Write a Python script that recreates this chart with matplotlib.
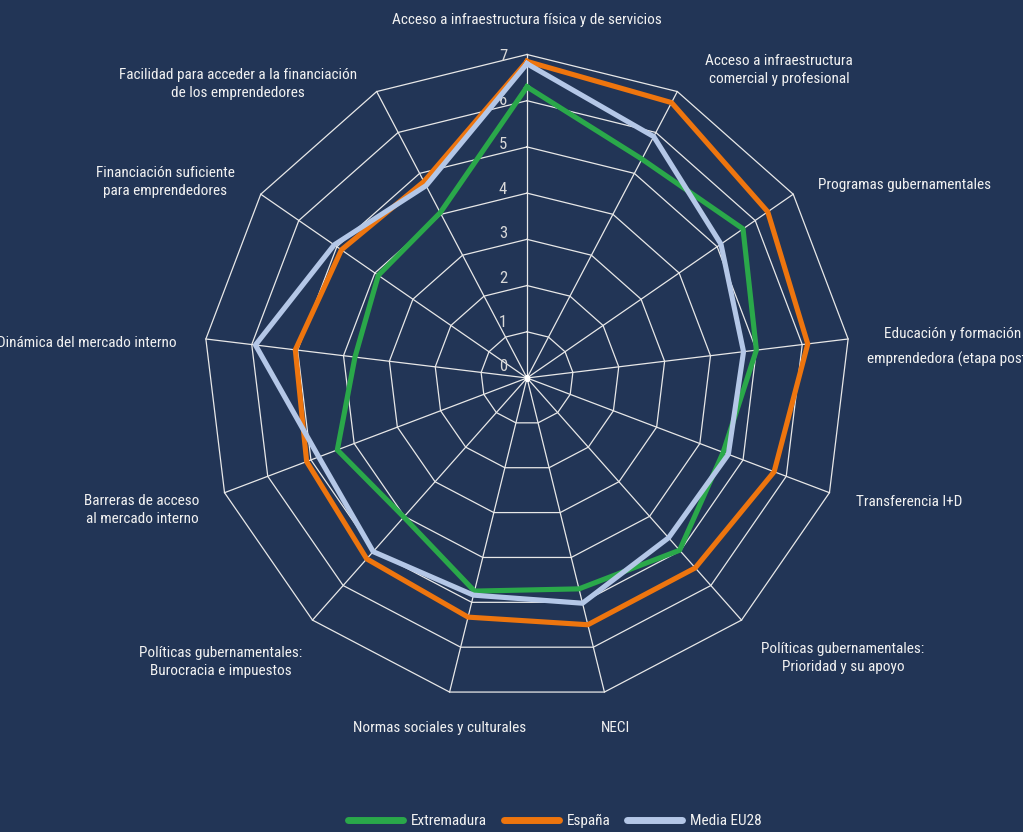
import numpy as np
import matplotlib.pyplot as plt
from matplotlib.lines import Line2D
from matplotlib.transforms import offset_copy

# Condiciones del entorno emprendedor (escala 0-7), en sentido horario desde arriba
categorias = [
    "Acceso a infraestructura física y de servicios",
    "Acceso a infraestructura\ncomercial y profesional",
    "Programas gubernamentales",
    "Educación y formación\nemprendedora (etapa post escolar)",
    "Transferencia I+D",
    "Políticas gubernamentales:\nPrioridad y su apoyo",
    "NECI",
    "Normas sociales y culturales",
    "Políticas gubernamentales:\nBurocracia e impuestos",
    "Barreras de acceso\nal mercado interno",
    "Dinámica del mercado interno",
    "Financiación suficiente\npara emprendedores",
    "Facilidad para acceder a la financiación\nde los emprendedores",
]
extremadura = [6.30, 5.35, 5.68, 5.00, 4.54, 4.98, 4.70, 4.75, 4.02, 4.39, 3.75, 3.91, 4.04]
espana = [6.85, 6.73, 6.33, 6.12, 5.72, 5.49, 5.50, 5.33, 5.23, 5.10, 5.05, 4.88, 4.80]
media_eu28 = [6.80, 5.90, 5.10, 4.72, 4.66, 4.62, 5.02, 4.84, 5.02, 4.82, 5.92, 5.07, 4.70]
escala = [0, 1, 2, 3, 4, 5, 6, 7]

fondo = '#223556'
color_red = '#e8e8e8'
color_texto = '#f2f2f2'
plt.rcParams['font.family'] = ['Roboto Condensed', 'Open Sans Condensed', 'Noto Sans Condensed',
                               'Liberation Sans Narrow', 'Noto Sans', 'DejaVu Sans']
plt.rcParams['font.stretch'] = 'condensed'

W, H = 1023, 832
fig = plt.figure(figsize=(W / 100, H / 100), dpi=100, facecolor=fondo)
ax = fig.add_axes([0.1989, 0.1569, 0.6325, 0.7776], projection='polar')
ax.set_facecolor('none')
ax.set_theta_zero_location('N')
ax.set_theta_direction(-1)
ax.set_ylim(0, max(escala))
ax.axis('off')

n = len(categorias)
angulos = np.linspace(0, 2 * np.pi, n, endpoint=False)
cerrado = np.append(angulos, angulos[0])

# Red poligonal
for k in escala[1:]:
    ax.plot(cerrado, [k] * (n + 1), color=color_red, lw=0.9, clip_on=False, zorder=1)
for a in angulos:
    ax.plot([a, a], [0, max(escala)], color=color_red, lw=0.9, clip_on=False, zorder=1)
ax.plot([0], [0], 's', color='white', ms=3, zorder=2)

# Etiquetas de la escala junto al eje vertical
for k in escala:
    trans = offset_copy(ax.transData, fig=fig, x=-24, y=11 - 1.8 * k, units='dots')
    ax.text(0, k, str(k), transform=trans, ha='center', va='center',
            color='#d9d9d9', fontsize=12)

series = [
    ("Extremadura", extremadura, '#2aa84a'),
    ("España", espana, '#ee750e'),
    ("Media EU28", media_eu28, '#b4c7e7'),
]
for nombre, valores, color in series:
    ax.plot(cerrado, valores + valores[:1], color=color, lw=3.7,
            solid_joinstyle='round', clip_on=False, zorder=3)

# Rótulos de las categorías (posición en píxeles y alineación)
rotulos = [
    (527, 20, 'center'), (779, 70, 'center'), (905, 185, 'center'),
    (None, 345, 'left'), (909, 502, 'center'), (843, 658, 'center'),
    (615, 728, 'center'), (440, 728, 'center'), (221, 662, 'center'),
    (142, 510, 'center'), (177, 343, 'right'), (165, 182, 'center'),
    (238, 84, 'center'),
]
for texto, (px, py, ha) in zip(categorias, rotulos):
    if px is None:
        # el rótulo del borde derecho se coloca línea a línea y queda recortado
        l1, l2 = texto.split('\n')
        fig.text(884 / W, 1 - (py - 7) / H, l1, ha='left', va='baseline',
                 color=color_texto, fontsize=11)
        fig.text(867 / W, 1 - (py + 19) / H, l2, ha='left', va='baseline',
                 color=color_texto, fontsize=11)
        continue
    fig.text(px / W, 1 - py / H, texto, ha=ha, va='center', multialignment='center',
             color=color_texto, fontsize=11, linespacing=1.3)

handles = [Line2D([], [], color=c, lw=5, solid_capstyle='round') for _, _, c in series]
fig.legend(handles, [s[0] for s in series], loc='center', bbox_to_anchor=(0.5425, 0.013),
           ncol=3, frameon=False, handlelength=3.6, handletextpad=0.5,
           columnspacing=1.1, fontsize=11, labelcolor=color_texto)

fig.savefig('out.png', dpi=100, facecolor=fondo)
